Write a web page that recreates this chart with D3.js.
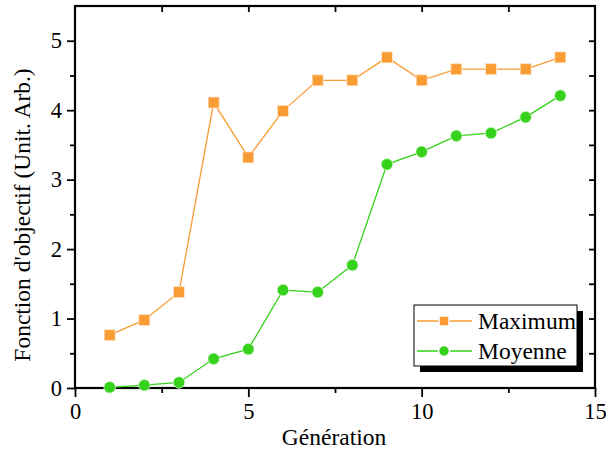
<!DOCTYPE html>
<html><head><meta charset="utf-8">
<script src="https://cdn.jsdelivr.net/npm/d3@7"></script>
<style>
svg text, text { font-family: 'Liberation Serif', 'Times New Roman', Tinos, serif !important; }
</style>
</head><body style="margin:0">
<svg id="c" width="606" height="452" style="display:block;background:#fff"></svg>
<script>
const generations = [1,2,3,4,5,6,7,8,9,10,11,12,13,14];
const maximum = [0.76,0.98,1.38,4.11,3.32,3.99,4.43,4.43,4.76,4.43,4.59,4.59,4.59,4.76];
const moyenne = [0.01,0.04,0.08,0.42,0.56,1.41,1.38,1.77,3.22,3.40,3.63,3.67,3.90,4.21];
const xTicks = [0,5,10,15];
const yTicks = [0,1,2,3,4,5];
const seriesNames = ["Maximum","Moyenne"];
const colors = ["#F99C33","#35D11B"];
const FF = "'Times New Roman'";

const svg = d3.select("#c");
const L=75, R=595, T=6, B=388;
const x = d3.scaleLinear().domain([0,15]).range([L,R]);
const y = d3.scaleLinear().domain([0,5.5]).range([B,T]);

function axisG(tr, ax){
  const g = svg.append("g").attr("transform",tr).call(ax);
  g.attr("font-family",FF).attr("font-size",22);
  g.select(".domain").remove();
  g.selectAll(".tick line").attr("stroke","#000").attr("stroke-width",1.8);
  g.selectAll(".tick text").attr("font-size",22.5).attr("fill","#000").attr("font-family",FF);
  return g;
}
axisG(`translate(0,${B})`, d3.axisBottom(x).tickValues(xTicks).tickSize(9).tickPadding(6).tickFormat(d3.format("d")));
axisG(`translate(0,${B})`, d3.axisBottom(x).tickValues([2.5,7.5,12.5]).tickSize(5).tickFormat(""));
axisG(`translate(${L},0)`, d3.axisLeft(y).tickValues(yTicks).tickSize(8).tickPadding(5).tickFormat(d3.format("d")));
axisG(`translate(${L},0)`, d3.axisLeft(y).tickValues([0.5,1.5,2.5,3.5,4.5]).tickSize(5).tickFormat(""));
axisG(`translate(0,${T})`, d3.axisTop(x).tickValues([2.5,5,7.5,10,12.5]).tickSize(-6).tickFormat(""));
axisG(`translate(${R},0)`, d3.axisRight(y).tickValues([0.5,1,1.5,2,2.5,3,3.5,4,4.5,5]).tickSize(-6).tickFormat(""));

svg.append("rect").attr("x",L).attr("y",T).attr("width",R-L).attr("height",B-T)
  .attr("fill","none").attr("stroke","#000").attr("stroke-width",2.2);

const line = d3.line().x((d,i)=>x(generations[i])).y(d=>y(d));
[maximum,moyenne].forEach((s,k)=>{
  svg.append("path").datum(s).attr("d",line).attr("fill","none")
    .attr("stroke",colors[k]).attr("stroke-width",1.3);
});
svg.selectAll(".sq").data(maximum).join("rect")
  .attr("x",(d,i)=>x(generations[i])-5.5).attr("y",d=>y(d)-5.5)
  .attr("width",11).attr("height",11).attr("fill",colors[0])
  .attr("stroke","#fde6cc").attr("stroke-width",0.8);
svg.selectAll(".ci").data(moyenne).join("circle")
  .attr("cx",(d,i)=>x(generations[i])).attr("cy",d=>y(d)).attr("r",5.8)
  .attr("fill",colors[1]).attr("stroke","#d7f5d1").attr("stroke-width",0.8);

svg.append("text").attr("x",334).attr("y",445).attr("text-anchor","middle")
  .attr("font-size",23.5).attr("font-family",FF).text("Génération");
svg.append("text").attr("transform","translate(30,215) rotate(-90)").attr("text-anchor","middle")
  .attr("font-size",23.5).attr("font-family",FF).text("Fonction d'objectif (Unit. Arb.)");

const lx=414, ly=305, lw=163, lh=61;
svg.append("rect").attr("x",lx+6).attr("y",ly+6).attr("width",lw).attr("height",lh).attr("fill","#000");
svg.append("rect").attr("x",lx).attr("y",ly).attr("width",lw).attr("height",lh)
  .attr("fill","#fff").attr("stroke","#000").attr("stroke-width",1);
seriesNames.forEach((n,k)=>{
  const cy = ly+16+k*30;
  svg.append("line").attr("x1",lx+3).attr("x2",lx+58).attr("y1",cy).attr("y2",cy)
    .attr("stroke",colors[k]).attr("stroke-width",1.3);
  if(k===0){
    svg.append("rect").attr("x",lx+30-5).attr("y",cy-5).attr("width",10).attr("height",10)
      .attr("fill",colors[0]).attr("stroke","#fff").attr("stroke-width",1.5);
  } else {
    svg.append("circle").attr("cx",lx+30).attr("cy",cy).attr("r",5.5)
      .attr("fill",colors[1]).attr("stroke","#fff").attr("stroke-width",1.5);
  }
  svg.append("text").attr("x",lx+64).attr("y",cy+8).attr("font-size",23.5).attr("font-family",FF).text(n);
});
</script>
</body></html>
